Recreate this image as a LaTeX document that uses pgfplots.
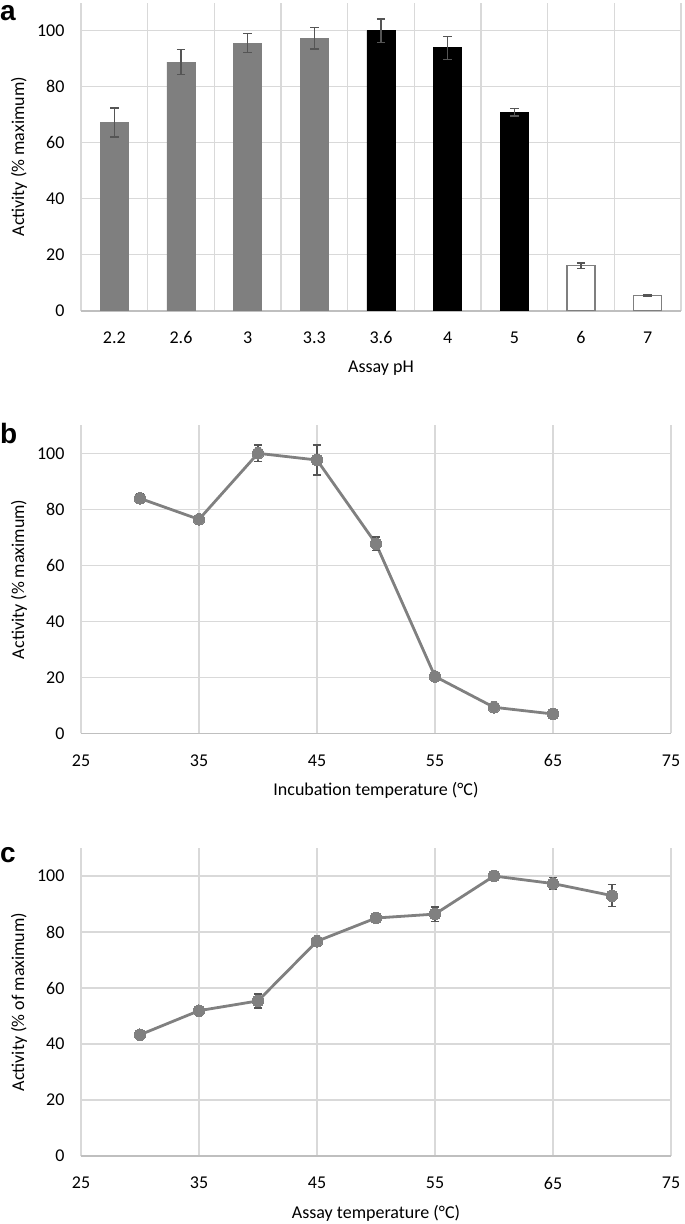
\documentclass[border=0pt]{standalone}
\usepackage{fontspec}
\setmainfont{Carlito}
\newfontfamily\panelfont{Liberation Sans}
\usepackage{pgfplots}
\pgfplotsset{compat=1.18}
\definecolor{barGray}{RGB}{127,127,127}
\definecolor{errGray}{RGB}{85,85,85}
\definecolor{gridGray}{RGB}{217,217,217}
\definecolor{axisGray}{RGB}{191,191,191}
\definecolor{lineGray}{RGB}{128,128,128}
\pgfplotsset{
  panel/.style={
    scale only axis,
    width=590pt, height=308pt,
    anchor=south west,
    /pgf/number format/assume math mode=true,
    axis line style={draw=none},
    major tick length=0pt, minor tick length=0pt,
    tick label style={font=\fontsize{18}{22}\selectfont},
    label style={font=\fontsize{18}{22}\selectfont},
    ymin=0, ymax=110,
    ytick={0,20,...,100},
    ymajorgrids,
    grid style={gridGray, line width=1.4pt},
    minor grid style={gridGray, line width=1.4pt},
    extra y ticks={0},
    extra y tick labels={},
    extra y tick style={grid style={axisGray, line width=1.6pt}},
    yticklabel style={anchor=east, xshift=-13pt},
    xticklabel style={anchor=center, yshift=-27pt},
    xlabel style={at={(axis description cs:0.5,0)}, anchor=center, yshift=-57pt},
    clip=false,
  },
  errbar/.style={
    error bars/.cd, y dir=both, y explicit,
    error bar style={errGray, line width=1.4pt},
    error mark options={errGray, line width=1.4pt, mark size=4.2pt, rotate=90},
  },
  tline/.style={
    lineGray, line width=2.8pt, mark=*, mark size=5.8pt,
    mark options={fill=lineGray, draw=lineGray, line width=0pt},
  },
}
\begin{document}
\begin{tikzpicture}
\useasboundingbox (0,0) rectangle (685pt,-1224pt);

% ---------------- panel a ----------------
\begin{axis}[panel, at={(81pt,-310.7pt)},
  width=600pt,
  ylabel style={at={(axis description cs:-0.1035,0.5)}, anchor=center},
  xmin=-0.5, xmax=8.5,
  xtick={0,...,8},
  xticklabels={2.2,2.6,3,3.3,3.6,4,5,6,7},
  minor xtick={-0.5,0.5,...,8.5},
  xminorgrids,
  xlabel={Assay pH},
  ylabel={Activity (\% maximum)},
]
\addplot+[ybar, bar width=28pt, bar shift=0pt, fill=barGray, draw=barGray, line width=0.8pt, mark=none, errbar]
  coordinates {(0,67.2) +- (0,5.2) (1,88.8) +- (0,4.5) (2,95.6) +- (0,3.3) (3,97.3) +- (0,3.8)};
\addplot+[ybar, bar width=28pt, bar shift=0pt, fill=black, draw=black, line width=0.8pt, mark=none, errbar]
  coordinates {(4,100) +- (0,4.2) (5,93.9) +- (0,4.1) (6,70.9) +- (0,1.3)};
\addplot+[ybar, bar width=28pt, bar shift=0pt, fill=white, draw=barGray, line width=1.5pt, mark=none, errbar]
  coordinates {(7,16.1) +- (0,1.0) (8,5.5) +- (0,0.3)};
\end{axis}

% ---------------- panel b ----------------
\begin{axis}[panel, at={(81pt,-733.3pt)},
  ylabel style={at={(axis description cs:-0.1051,0.5)}, anchor=center},
  xmin=25, xmax=75,
  xtick={25,35,...,75},
  xmajorgrids,
  xlabel={Incubation temperature (°C)},
  ylabel={Activity (\% maximum)},
]
\addplot[tline, errbar]
  coordinates {(30,83.9) +- (0,1.5) (35,76.4) +- (0,0.8) (40,100) +- (0,2.9) (45,97.6) +- (0,5.4)
               (50,67.7) +- (0,2.4) (55,20.3) +- (0,0.8) (60,9.3) +- (0,0.5) (65,6.9) +- (0,0.5)};
\end{axis}

% ---------------- panel c ----------------
\begin{axis}[panel, at={(81pt,-1156pt)},
  ylabel style={at={(axis description cs:-0.1051,0.5)}, anchor=center},
  xmin=25, xmax=75,
  xtick={25,35,...,75},
  xmajorgrids,
  xlabel={Assay temperature (°C)},
  ylabel={Activity (\% of maximum)},
]
\addplot[tline, errbar]
  coordinates {(30,43.3) +- (0,0.5) (35,51.9) +- (0,1.5) (40,55.4) +- (0,2.5) (45,76.7) +- (0,1.3)
               (50,85.0) +- (0,0.8) (55,86.4) +- (0,2.6) (60,100) +- (0,1.2) (65,97.3) +- (0,2.2) (70,93.0) +- (0,3.9)};
\end{axis}

\node[anchor=west, inner sep=0pt, font=\panelfont\bfseries\fontsize{28}{30}\selectfont] at (0pt,-13pt) {a};
\node[anchor=west, inner sep=0pt, font=\panelfont\bfseries\fontsize{28}{30}\selectfont] at (0pt,-433pt) {b};
\node[anchor=west, inner sep=0pt, font=\panelfont\bfseries\fontsize{28}{30}\selectfont] at (0pt,-855pt) {c};
\end{tikzpicture}
\end{document}
